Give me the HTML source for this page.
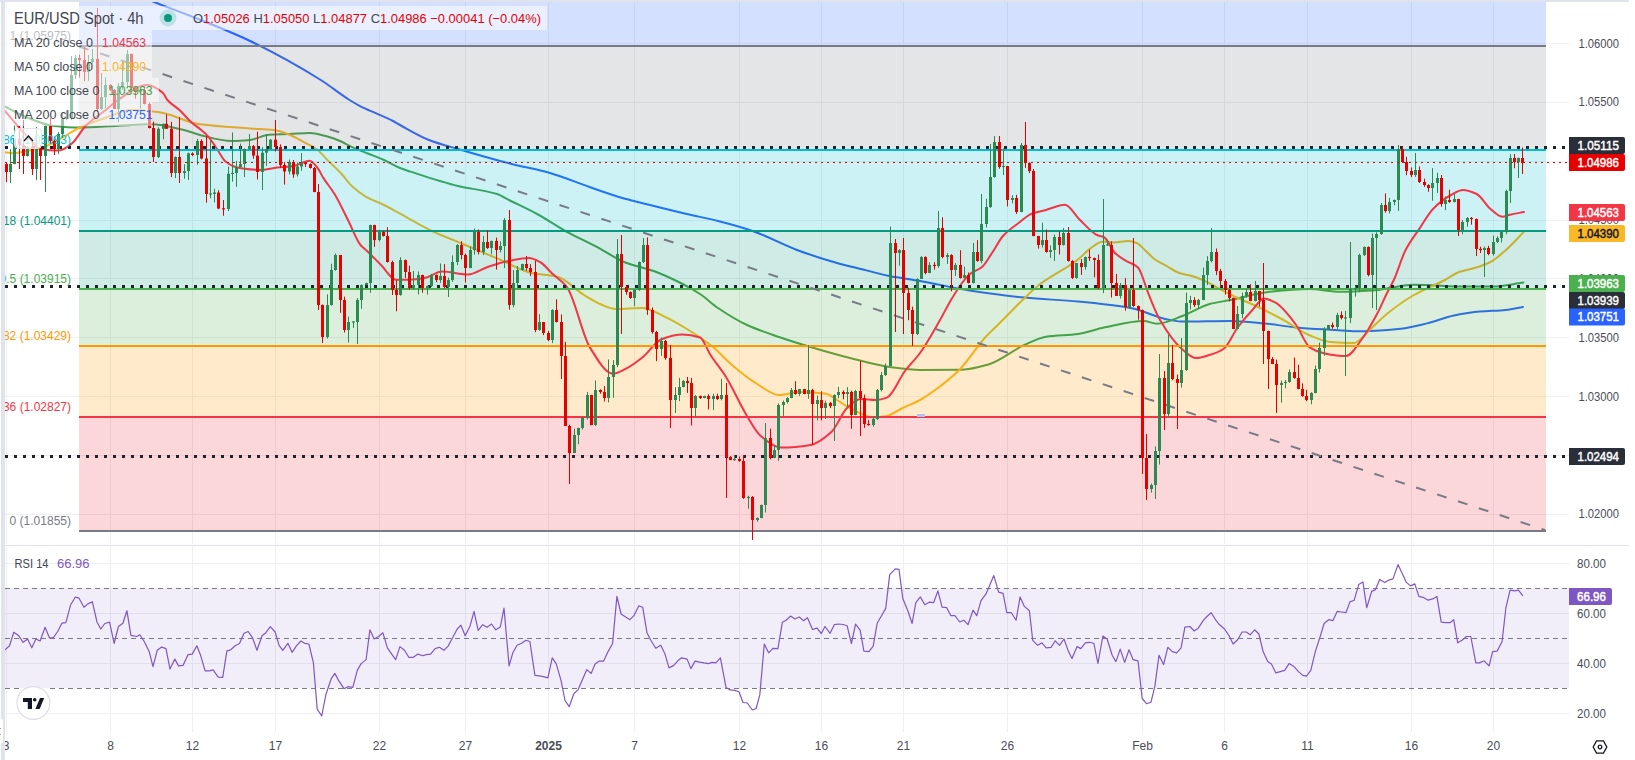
<!DOCTYPE html><html><head><meta charset="utf-8"><style>
html,body{margin:0;padding:0;background:#fff;width:1635px;height:760px;overflow:hidden;}
svg{display:block;font-family:"Liberation Sans", sans-serif;}
</style></head><body>
<svg width="1635" height="760" viewBox="0 0 1635 760">
<defs><clipPath id="cm"><rect x="5" y="2" width="1564" height="542"/></clipPath><clipPath id="cr"><rect x="5" y="546" width="1564" height="189"/></clipPath><clipPath id="cl"><rect x="5" y="2" width="75" height="542"/></clipPath></defs>
<g stroke="#eeeff1" stroke-width="1"><line x1="6.5" y1="2" x2="6.5" y2="544" /><line x1="6.5" y1="546" x2="6.5" y2="732" /><line x1="110.5" y1="2" x2="110.5" y2="544" /><line x1="110.5" y1="546" x2="110.5" y2="732" /><line x1="192.5" y1="2" x2="192.5" y2="544" /><line x1="192.5" y1="546" x2="192.5" y2="732" /><line x1="275.5" y1="2" x2="275.5" y2="544" /><line x1="275.5" y1="546" x2="275.5" y2="732" /><line x1="379.5" y1="2" x2="379.5" y2="544" /><line x1="379.5" y1="546" x2="379.5" y2="732" /><line x1="465.5" y1="2" x2="465.5" y2="544" /><line x1="465.5" y1="546" x2="465.5" y2="732" /><line x1="548.5" y1="2" x2="548.5" y2="544" /><line x1="548.5" y1="546" x2="548.5" y2="732" /><line x1="634.5" y1="2" x2="634.5" y2="544" /><line x1="634.5" y1="546" x2="634.5" y2="732" /><line x1="739.5" y1="2" x2="739.5" y2="544" /><line x1="739.5" y1="546" x2="739.5" y2="732" /><line x1="821.5" y1="2" x2="821.5" y2="544" /><line x1="821.5" y1="546" x2="821.5" y2="732" /><line x1="903.5" y1="2" x2="903.5" y2="544" /><line x1="903.5" y1="546" x2="903.5" y2="732" /><line x1="1007.5" y1="2" x2="1007.5" y2="544" /><line x1="1007.5" y1="546" x2="1007.5" y2="732" /><line x1="1142.5" y1="2" x2="1142.5" y2="544" /><line x1="1142.5" y1="546" x2="1142.5" y2="732" /><line x1="1224.5" y1="2" x2="1224.5" y2="544" /><line x1="1224.5" y1="546" x2="1224.5" y2="732" /><line x1="1307.5" y1="2" x2="1307.5" y2="544" /><line x1="1307.5" y1="546" x2="1307.5" y2="732" /><line x1="1411.5" y1="2" x2="1411.5" y2="544" /><line x1="1411.5" y1="546" x2="1411.5" y2="732" /><line x1="1493.5" y1="2" x2="1493.5" y2="544" /><line x1="1493.5" y1="546" x2="1493.5" y2="732" /><line x1="5" y1="43.5" x2="1569" y2="43.5" /><line x1="5" y1="102.5" x2="1569" y2="102.5" /><line x1="5" y1="161.5" x2="1569" y2="161.5" /><line x1="5" y1="220.5" x2="1569" y2="220.5" /><line x1="5" y1="278.5" x2="1569" y2="278.5" /><line x1="5" y1="337.5" x2="1569" y2="337.5" /><line x1="5" y1="396.5" x2="1569" y2="396.5" /><line x1="5" y1="455.5" x2="1569" y2="455.5" /><line x1="5" y1="514.5" x2="1569" y2="514.5" /><line x1="5" y1="563.5" x2="1569" y2="563.5" /><line x1="5" y1="613.5" x2="1569" y2="613.5" /><line x1="5" y1="663.5" x2="1569" y2="663.5" /><line x1="5" y1="713.5" x2="1569" y2="713.5" /></g>
<g clip-path="url(#cm)" fill="none" stroke-width="2" stroke-linejoin="round" stroke-linecap="round">
<path d="M140.0,-4.0 C145.00,-1.90 150.00,0.27 155.00,2.30 C170.00,8.38 185.00,13.64 200.00,19.70 C216.00,26.16 232.00,32.42 248.00,40.00 C272.00,51.37 296.00,64.54 320.00,79.50 C329.83,85.63 339.67,93.91 349.50,100.00 C353.17,102.27 356.83,104.44 360.50,106.30 C365.77,108.97 371.03,111.03 376.30,113.40 C381.53,115.76 386.77,117.84 392.00,120.50 C394.67,121.85 397.33,123.55 400.00,125.00 C409.67,130.25 419.33,136.25 429.00,140.00 C438.67,143.75 448.33,146.14 458.00,149.00 C475.50,154.18 493.00,159.24 510.50,163.70 C523.67,167.05 536.83,169.27 550.00,173.00 C563.17,176.73 576.33,182.51 589.50,187.00 C601.67,191.15 613.83,195.64 626.00,199.00 C628.67,199.74 631.33,200.34 634.00,201.00 C651.60,205.37 669.20,209.88 686.80,214.00 C697.20,216.43 707.60,218.38 718.00,221.00 C729.53,223.91 741.07,227.05 752.60,231.00 C767.40,236.07 782.20,244.55 797.00,250.00 C810.33,254.91 823.67,259.27 837.00,263.00 C845.67,265.43 854.33,267.35 863.00,269.50 C871.83,271.69 880.67,274.26 889.50,276.00 C899.67,278.01 909.83,279.22 920.00,281.00 C937.53,284.07 955.07,288.34 972.60,291.00 C990.07,293.65 1007.53,295.95 1025.00,297.60 C1042.67,299.27 1060.33,299.95 1078.00,301.60 C1095.50,303.23 1113.00,304.89 1130.50,308.00 C1143.67,310.34 1156.83,317.85 1170.00,320.00 C1174.33,320.71 1178.67,321.60 1183.00,321.60 C1198.67,321.60 1214.33,321.00 1230.00,321.00 C1241.33,321.00 1252.67,322.37 1264.00,323.40 C1274.67,324.37 1285.33,326.46 1296.00,327.40 C1309.00,328.54 1322.00,329.17 1335.00,330.00 C1342.00,330.45 1349.00,331.30 1356.00,331.30 C1371.00,331.30 1386.00,330.12 1401.00,328.70 C1409.67,327.88 1418.33,325.48 1427.00,323.40 C1436.00,321.24 1445.00,317.28 1454.00,315.50 C1462.67,313.78 1471.33,312.36 1480.00,311.60 C1488.67,310.84 1497.33,310.82 1506.00,310.00 C1511.67,309.46 1517.33,308.00 1523.00,307.00" stroke="#2962ff"/>
<path d="M4.0,106.0 C11.33,109.67 18.67,114.08 26.00,117.00 C34.87,120.53 43.73,124.65 52.60,125.70 C61.40,126.74 70.20,127.60 79.00,127.60 C92.00,127.60 105.00,126.29 118.00,125.70 C129.00,125.20 140.00,124.30 151.00,124.30 C162.00,124.30 173.00,127.47 184.00,130.00 C189.33,131.23 194.67,133.71 200.00,135.00 C210.67,137.57 221.33,141.00 232.00,141.00 C238.00,141.00 244.00,140.55 250.00,140.00 C256.33,139.42 262.67,135.09 269.00,134.70 C275.83,134.28 282.67,134.27 289.50,134.00 C296.33,133.73 303.17,133.00 310.00,133.00 C316.33,133.00 322.67,135.27 329.00,137.00 C332.67,138.00 336.33,139.45 340.00,141.00 C344.20,142.77 348.40,145.52 352.60,147.40 C357.87,149.76 363.13,151.59 368.40,153.70 C373.60,155.79 378.80,157.68 384.00,160.00 C389.33,162.38 394.67,165.86 400.00,168.00 C403.50,169.41 407.00,170.46 410.50,171.60 C426.33,176.76 442.17,182.15 458.00,186.00 C471.00,189.16 484.00,189.92 497.00,194.00 C501.00,195.26 505.00,198.00 509.00,200.00 C518.67,204.83 528.33,209.22 538.00,214.50 C547.60,219.74 557.20,226.56 566.80,231.80 C576.47,237.08 586.13,241.24 595.80,246.30 C605.43,251.35 615.07,258.43 624.70,262.20 C634.37,265.98 644.03,267.50 653.70,271.00 C663.33,274.49 672.97,279.09 682.60,284.00 C688.40,286.96 694.20,290.17 700.00,294.00 C706.00,297.96 712.00,303.94 718.00,308.00 C727.67,314.53 737.33,320.56 747.00,325.00 C757.67,329.90 768.33,333.33 779.00,337.00 C789.50,340.61 800.00,343.88 810.50,347.00 C823.67,350.92 836.83,354.70 850.00,358.00 C863.17,361.30 876.33,365.22 889.50,367.00 C899.67,368.37 909.83,370.00 920.00,370.00 C934.00,370.00 948.00,369.91 962.00,369.70 C970.80,369.57 979.60,366.98 988.40,364.50 C1000.60,361.06 1012.80,350.03 1025.00,344.70 C1032.00,341.64 1039.00,337.84 1046.00,336.80 C1056.67,335.22 1067.33,335.40 1078.00,334.00 C1086.67,332.86 1095.33,329.34 1104.00,327.60 C1117.23,324.94 1130.47,321.00 1143.70,321.00 C1148.13,321.00 1152.57,323.70 1157.00,323.70 C1165.67,323.70 1174.33,318.93 1183.00,315.80 C1191.83,312.61 1200.67,306.32 1209.50,304.00 C1216.50,302.16 1223.50,301.39 1230.50,300.00 C1243.50,297.41 1256.50,293.18 1269.50,291.80 C1282.67,290.40 1295.83,289.00 1309.00,289.00 C1319.50,289.00 1330.00,291.80 1340.50,291.80 C1351.00,291.80 1361.50,291.15 1372.00,290.50 C1386.00,289.63 1400.00,284.70 1414.00,284.70 C1431.67,284.70 1449.33,286.60 1467.00,286.60 C1475.67,286.60 1484.33,286.60 1493.00,286.60 C1503.13,286.60 1513.27,283.93 1523.40,282.60" stroke="#43a047"/>
<path d="M4.0,152.0 C7.00,152.43 10.00,153.30 13.00,153.30 C17.33,153.30 21.67,151.75 26.00,151.00 C30.50,150.22 35.00,149.80 39.50,148.70 C46.00,147.12 52.50,142.87 59.00,139.50 C65.67,136.05 72.33,131.10 79.00,128.00 C87.67,123.97 96.33,120.96 105.00,118.00 C113.67,115.04 122.33,110.00 131.00,110.00 C140.00,110.00 149.00,110.98 158.00,112.00 C172.00,113.59 186.00,122.48 200.00,124.30 C216.67,126.47 233.33,127.19 250.00,128.40 C258.00,128.98 266.00,129.08 274.00,130.00 C279.17,130.59 284.33,132.74 289.50,134.70 C294.67,136.66 299.83,139.82 305.00,142.60 C308.77,144.63 312.53,146.30 316.30,149.00 C320.53,152.04 324.77,157.42 329.00,161.60 C333.20,165.75 337.40,169.51 341.60,174.00 C345.27,177.92 348.93,183.44 352.60,186.80 C356.83,190.68 361.07,193.83 365.30,196.30 C371.53,199.93 377.77,201.87 384.00,205.00 C389.33,207.68 394.67,210.81 400.00,213.70 C410.53,219.42 421.07,225.82 431.60,230.80 C442.07,235.75 452.53,239.58 463.00,244.00 C475.33,249.21 487.67,254.49 500.00,259.70 C510.53,264.15 521.07,270.69 531.60,273.00 C540.40,274.93 549.20,274.81 558.00,277.00 C566.67,279.16 575.33,289.66 584.00,295.00 C589.33,298.28 594.67,301.86 600.00,304.00 C605.33,306.14 610.67,309.00 616.00,309.00 C624.67,309.00 633.33,308.00 642.00,308.00 C649.00,308.00 656.00,312.71 663.00,315.80 C671.00,319.33 679.00,324.10 687.00,329.00 C695.67,334.30 704.33,339.99 713.00,347.00 C719.20,352.01 725.40,359.46 731.60,364.70 C740.40,372.13 749.20,379.26 758.00,384.50 C765.00,388.67 772.00,395.00 779.00,395.00 C786.00,395.00 793.00,392.00 800.00,392.00 C808.67,392.00 817.33,392.56 826.00,393.70 C829.67,394.18 833.33,397.84 837.00,400.00 C842.20,403.06 847.40,407.06 852.60,409.50 C859.63,412.80 866.67,417.40 873.70,417.40 C878.07,417.40 882.43,416.76 886.80,416.00 C892.07,415.09 897.33,410.54 902.60,408.00 C908.40,405.20 914.20,403.16 920.00,400.00 C925.27,397.13 930.53,393.37 935.80,389.50 C943.70,383.70 951.60,377.59 959.50,369.70 C968.27,360.95 977.03,346.38 985.80,336.80 C990.20,331.99 994.60,328.09 999.00,323.70 C1006.87,315.85 1014.73,307.54 1022.60,300.00 C1027.73,295.08 1032.87,289.84 1038.00,285.80 C1051.33,275.30 1064.67,269.89 1078.00,259.50 C1082.17,256.25 1086.33,251.15 1090.50,248.30 C1094.47,245.59 1098.43,241.70 1102.40,241.70 C1105.93,241.70 1109.47,242.40 1113.00,242.40 C1118.23,242.40 1123.47,241.00 1128.70,241.00 C1131.33,241.00 1133.97,241.98 1136.60,243.00 C1139.67,244.19 1142.73,248.25 1145.80,251.00 C1148.87,253.75 1151.93,257.35 1155.00,259.50 C1158.50,261.96 1162.00,263.46 1165.50,265.40 C1170.33,268.08 1175.17,271.82 1180.00,273.30 C1183.00,274.22 1186.00,274.52 1189.00,275.30 C1193.00,276.35 1197.00,277.62 1201.00,279.20 C1204.53,280.60 1208.07,282.65 1211.60,284.50 C1215.97,286.78 1220.33,289.47 1224.70,291.70 C1229.80,294.31 1234.90,296.67 1240.00,299.00 C1245.33,301.44 1250.67,303.51 1256.00,306.00 C1264.87,310.14 1273.73,314.67 1282.60,319.50 C1291.40,324.29 1300.20,331.30 1309.00,335.00 C1316.00,337.95 1323.00,341.47 1330.00,342.00 C1337.90,342.60 1345.80,343.00 1353.70,343.00 C1358.97,343.00 1364.23,334.57 1369.50,330.00 C1375.67,324.65 1381.83,317.91 1388.00,313.00 C1396.67,306.10 1405.33,299.96 1414.00,295.00 C1424.33,289.08 1434.67,285.47 1445.00,280.00 C1449.67,277.53 1454.33,273.66 1459.00,272.00 C1464.23,270.14 1469.47,269.60 1474.70,268.00 C1479.97,266.39 1485.23,264.69 1490.50,262.00 C1495.67,259.36 1500.83,254.54 1506.00,250.00 C1512.00,244.73 1518.00,237.73 1524.00,231.60" stroke="#f7b71a"/>
</g>
<rect x="79" y="2" width="1467" height="44.0" fill="#2962ff" fill-opacity="0.2"/><rect x="79" y="46.0" width="1467" height="104.0" fill="#787b86" fill-opacity="0.2"/><rect x="79" y="150.0" width="1467" height="81.0" fill="#00bcd4" fill-opacity="0.2"/><rect x="79" y="231.0" width="1467" height="58.0" fill="#089981" fill-opacity="0.2"/><rect x="79" y="289.0" width="1467" height="57.0" fill="#4caf50" fill-opacity="0.2"/><rect x="79" y="346.0" width="1467" height="71.0" fill="#ff9800" fill-opacity="0.2"/><rect x="79" y="417.0" width="1467" height="114.0" fill="#f23645" fill-opacity="0.2"/>
<path clip-path="url(#cm)" d="M4.0,110.0 C12.67,119.83 21.33,130.83 30.00,139.50 C33.33,142.84 36.67,148.04 40.00,148.70 C46.33,149.95 52.67,150.60 59.00,150.60 C63.33,150.60 67.67,146.75 72.00,143.40 C76.50,139.92 81.00,130.49 85.50,126.00 C92.00,119.52 98.50,115.71 105.00,110.50 C109.33,107.03 113.67,102.81 118.00,100.00 C127.67,93.73 137.33,85.00 147.00,85.00 C152.33,85.00 157.67,88.50 163.00,93.00 C164.47,94.24 165.93,98.31 167.40,100.00 C171.60,104.84 175.80,106.59 180.00,110.50 C183.67,113.91 187.33,118.75 191.00,122.00 C194.00,124.66 197.00,126.47 200.00,129.00 C202.83,131.39 205.67,133.63 208.50,136.80 C211.33,139.97 214.17,144.89 217.00,149.00 C219.87,153.16 222.73,159.21 225.60,161.60 C228.40,163.93 231.20,165.57 234.00,166.50 C236.90,167.46 239.80,168.12 242.70,168.50 C248.47,169.26 254.23,170.00 260.00,170.00 C265.67,170.00 271.33,168.24 277.00,167.60 C282.67,166.96 288.33,166.84 294.00,166.00 C299.17,165.23 304.33,160.80 309.50,160.80 C312.33,160.80 315.17,165.00 318.00,168.50 C319.67,170.56 321.33,174.71 323.00,177.40 C327.00,183.87 331.00,188.09 335.00,194.70 C339.33,201.86 343.67,211.45 348.00,220.00 C352.17,228.22 356.33,239.95 360.50,245.00 C362.60,247.54 364.70,248.80 366.80,250.80 C371.63,255.41 376.47,260.47 381.30,265.30 C386.10,270.10 390.90,279.70 395.70,279.70 C400.47,279.70 405.23,279.70 410.00,279.70 C414.90,279.70 419.80,278.85 424.70,278.00 C430.47,277.00 436.23,271.60 442.00,271.60 C450.67,271.60 459.33,274.60 468.00,274.60 C474.77,274.60 481.53,268.91 488.30,266.70 C495.07,264.49 501.83,262.31 508.60,261.00 C515.40,259.69 522.20,258.00 529.00,258.00 C532.67,258.00 536.33,260.09 540.00,262.00 C544.13,264.16 548.27,269.97 552.40,273.80 C557.20,278.25 562.00,280.59 566.80,286.80 C574.53,296.80 582.27,335.36 590.00,347.60 C597.67,359.74 605.33,373.70 613.00,373.70 C617.33,373.70 621.67,370.81 626.00,368.70 C631.33,366.10 636.67,361.99 642.00,357.80 C648.67,352.56 655.33,341.33 662.00,339.00 C668.87,336.60 675.73,334.60 682.60,334.60 C688.40,334.60 694.20,335.62 700.00,337.50 C703.50,338.64 707.00,349.61 710.50,355.00 C715.67,362.96 720.83,368.74 726.00,377.00 C733.00,388.19 740.00,404.62 747.00,416.00 C751.50,423.31 756.00,432.03 760.50,435.80 C767.53,441.69 774.57,447.60 781.60,447.60 C791.23,447.60 800.87,446.58 810.50,445.00 C817.53,443.85 824.57,438.21 831.60,431.80 C836.73,427.12 841.87,412.74 847.00,408.00 C851.50,403.84 856.00,399.00 860.50,399.00 C865.67,399.00 870.83,400.00 876.00,400.00 C879.67,400.00 883.33,398.92 887.00,397.60 C893.00,395.45 899.00,378.92 905.00,371.00 C910.00,364.40 915.00,359.90 920.00,353.00 C926.67,343.81 933.33,331.59 940.00,320.00 C943.67,313.63 947.33,306.13 951.00,300.00 C954.67,293.87 958.33,287.74 962.00,283.00 C964.67,279.56 967.33,276.09 970.00,274.00 C974.00,270.86 978.00,270.34 982.00,267.00 C985.33,264.22 988.67,257.89 992.00,253.00 C995.67,247.62 999.33,240.03 1003.00,236.00 C1008.67,229.78 1014.33,226.33 1020.00,222.00 C1023.90,219.02 1027.80,215.08 1031.70,213.60 C1036.47,211.79 1041.23,211.25 1046.00,210.00 C1052.27,208.35 1058.53,204.80 1064.80,204.80 C1069.87,204.80 1074.93,215.24 1080.00,220.00 C1085.67,225.32 1091.33,232.64 1097.00,235.00 C1099.23,235.93 1101.47,235.96 1103.70,237.00 C1107.63,238.83 1111.57,249.87 1115.50,253.50 C1119.00,256.73 1122.50,258.64 1126.00,260.80 C1130.00,263.26 1134.00,263.73 1138.00,267.40 C1141.47,270.58 1144.93,285.40 1148.40,293.70 C1152.27,302.95 1156.13,313.40 1160.00,320.00 C1167.67,333.08 1175.33,343.80 1183.00,350.00 C1187.33,353.51 1191.67,358.00 1196.00,358.00 C1200.50,358.00 1205.00,356.32 1209.50,355.00 C1214.13,353.64 1218.77,352.10 1223.40,349.00 C1228.27,345.75 1233.13,333.44 1238.00,327.00 C1242.80,320.65 1247.60,315.18 1252.40,310.00 C1256.27,305.83 1260.13,298.40 1264.00,298.40 C1267.83,298.40 1271.67,300.66 1275.50,302.70 C1282.27,306.29 1289.03,315.64 1295.80,324.50 C1300.53,330.70 1305.27,344.58 1310.00,347.60 C1314.90,350.72 1319.80,352.46 1324.70,353.40 C1331.80,354.77 1338.90,356.00 1346.00,356.00 C1351.33,356.00 1356.67,345.94 1362.00,339.00 C1367.00,332.50 1372.00,323.33 1377.00,314.00 C1380.67,307.16 1384.33,298.26 1388.00,291.00 C1389.93,287.17 1391.87,284.13 1393.80,280.00 C1397.73,271.59 1401.67,257.59 1405.60,250.00 C1410.23,241.05 1414.87,235.52 1419.50,228.60 C1424.00,221.88 1428.50,213.62 1433.00,209.00 C1439.00,202.83 1445.00,198.19 1451.00,195.00 C1455.00,192.87 1459.00,190.00 1463.00,190.00 C1467.57,190.00 1472.13,191.90 1476.70,194.00 C1481.30,196.12 1485.90,205.24 1490.50,209.00 C1494.43,212.21 1498.37,216.80 1502.30,216.80 C1504.87,216.80 1507.43,215.39 1510.00,214.80 C1514.67,213.73 1519.33,212.93 1524.00,212.00" stroke="#f23645" fill="none" stroke-width="2" stroke-linejoin="round" stroke-linecap="round"/>
<rect x="79" y="45.0" width="1467" height="2" fill="#787b86"/>
<rect x="79" y="149.0" width="1467" height="2" fill="#00bcd4"/>
<rect x="79" y="230.0" width="1467" height="2" fill="#089981"/>
<rect x="79" y="288.0" width="1467" height="2" fill="#4caf50"/>
<rect x="79" y="345.0" width="1467" height="2" fill="#ff9800"/>
<rect x="79" y="416.0" width="1467" height="2" fill="#f23645"/>
<rect x="79" y="530.0" width="1467" height="2" fill="#787b86"/>
<line x1="5" y1="147.5" x2="1569" y2="147.5" stroke="#1e222d" stroke-width="3" stroke-dasharray="3 6"/>
<line x1="5" y1="286.5" x2="1569" y2="286.5" stroke="#1e222d" stroke-width="3" stroke-dasharray="3 6"/>
<line x1="5" y1="456.5" x2="1569" y2="456.5" stroke="#1e222d" stroke-width="3" stroke-dasharray="3 6"/>
<line x1="79" y1="46.5" x2="1545" y2="530" stroke="#787b86" stroke-width="2" stroke-dasharray="10 12"/>
<rect x="917" y="414" width="8" height="3" fill="#a9c4f5"/>
<g clip-path="url(#cm)"><g fill="#2b8a52"><rect x="10" y="149.2" width="1" height="33.8"/><rect x="9" y="164.0" width="3" height="8.0"/><rect x="14" y="125.0" width="1" height="39.3"/><rect x="13" y="139.0" width="3" height="25.0"/><rect x="27" y="145.8" width="1" height="10.7"/><rect x="26" y="147.0" width="3" height="9.0"/><rect x="36" y="127.0" width="1" height="53.2"/><rect x="35" y="149.0" width="3" height="20.0"/><rect x="45" y="123.9" width="1" height="68.1"/><rect x="44" y="126.0" width="3" height="30.0"/><rect x="58" y="132.1" width="1" height="21.8"/><rect x="57" y="134.0" width="3" height="15.0"/><rect x="62" y="113.0" width="1" height="24.9"/><rect x="61" y="119.0" width="3" height="15.0"/><rect x="66" y="110.6" width="1" height="9.8"/><rect x="65" y="117.9" width="3" height="1.2"/><rect x="71" y="56.0" width="1" height="64.1"/><rect x="70" y="75.0" width="3" height="43.0"/><rect x="75" y="55.0" width="1" height="23.8"/><rect x="74" y="58.0" width="3" height="17.0"/><rect x="88" y="55.0" width="1" height="26.0"/><rect x="87" y="62.0" width="3" height="10.0"/><rect x="92" y="49.0" width="1" height="14.7"/><rect x="91" y="59.0" width="3" height="3.0"/><rect x="101" y="73.0" width="1" height="37.0"/><rect x="100" y="97.0" width="3" height="12.0"/><rect x="105" y="77.5" width="1" height="30.6"/><rect x="104" y="85.0" width="3" height="12.0"/><rect x="118" y="83.1" width="1" height="38.9"/><rect x="117" y="86.0" width="3" height="23.0"/><rect x="122" y="61.8" width="1" height="28.1"/><rect x="121" y="82.0" width="3" height="4.0"/><rect x="127" y="50.0" width="1" height="37.6"/><rect x="126" y="54.0" width="3" height="28.0"/><rect x="140" y="89.4" width="1" height="19.4"/><rect x="139" y="90.0" width="3" height="2.0"/><rect x="158" y="127.3" width="1" height="30.7"/><rect x="157" y="128.8" width="3" height="28.2"/><rect x="163" y="123.7" width="1" height="15.6"/><rect x="162" y="123.8" width="3" height="5.0"/><rect x="175" y="156.4" width="1" height="21.8"/><rect x="174" y="157.0" width="3" height="16.0"/><rect x="184" y="164.3" width="1" height="14.4"/><rect x="183" y="171.0" width="3" height="2.0"/><rect x="188" y="152.5" width="1" height="27.4"/><rect x="187" y="153.4" width="3" height="17.6"/><rect x="197" y="138.9" width="1" height="25.8"/><rect x="196" y="141.0" width="3" height="14.0"/><rect x="210" y="139.7" width="1" height="58.6"/><rect x="209" y="193.4" width="3" height="1.2"/><rect x="214" y="188.7" width="1" height="13.7"/><rect x="213" y="192.5" width="3" height="1.5"/><rect x="228" y="166.5" width="1" height="44.5"/><rect x="227" y="173.7" width="3" height="35.3"/><rect x="232" y="132.4" width="1" height="49.3"/><rect x="231" y="172.8" width="3" height="1.2"/><rect x="236" y="160.9" width="1" height="25.9"/><rect x="235" y="167.0" width="3" height="6.0"/><rect x="240" y="143.6" width="1" height="23.9"/><rect x="239" y="164.0" width="3" height="3.0"/><rect x="244" y="148.4" width="1" height="28.6"/><rect x="243" y="149.0" width="3" height="15.0"/><rect x="249" y="134.0" width="1" height="15.8"/><rect x="248" y="146.0" width="3" height="3.0"/><rect x="262" y="147.0" width="1" height="43.0"/><rect x="261" y="152.7" width="3" height="19.3"/><rect x="266" y="134.0" width="1" height="31.7"/><rect x="265" y="149.0" width="3" height="3.7"/><rect x="270" y="139.0" width="1" height="10.0"/><rect x="269" y="139.7" width="3" height="9.3"/><rect x="289" y="159.5" width="1" height="14.9"/><rect x="288" y="162.0" width="3" height="9.5"/><rect x="297" y="162.4" width="1" height="14.1"/><rect x="296" y="166.5" width="3" height="7.9"/><rect x="301" y="153.1" width="1" height="17.6"/><rect x="300" y="163.0" width="3" height="3.5"/><rect x="327" y="294.3" width="1" height="44.4"/><rect x="326" y="305.0" width="3" height="32.0"/><rect x="331" y="263.7" width="1" height="41.9"/><rect x="330" y="270.0" width="3" height="35.0"/><rect x="335" y="253.6" width="1" height="17.2"/><rect x="334" y="255.0" width="3" height="15.0"/><rect x="348" y="316.6" width="1" height="25.9"/><rect x="347" y="322.0" width="3" height="8.0"/><rect x="353" y="321.3" width="1" height="6.6"/><rect x="352" y="321.4" width="3" height="1.2"/><rect x="357" y="298.1" width="1" height="45.9"/><rect x="356" y="300.0" width="3" height="22.0"/><rect x="361" y="284.4" width="1" height="24.4"/><rect x="360" y="285.0" width="3" height="15.0"/><rect x="366" y="282.7" width="1" height="2.5"/><rect x="365" y="283.0" width="3" height="2.0"/><rect x="370" y="224.7" width="1" height="68.0"/><rect x="369" y="225.0" width="3" height="58.0"/><rect x="379" y="229.9" width="1" height="11.6"/><rect x="378" y="232.0" width="3" height="8.0"/><rect x="400" y="257.2" width="1" height="38.5"/><rect x="399" y="260.0" width="3" height="35.0"/><rect x="413" y="270.9" width="1" height="18.6"/><rect x="412" y="285.0" width="3" height="3.0"/><rect x="418" y="271.5" width="1" height="22.9"/><rect x="417" y="275.0" width="3" height="10.0"/><rect x="427" y="285.7" width="1" height="8.8"/><rect x="426" y="286.0" width="3" height="2.0"/><rect x="431" y="273.8" width="1" height="13.1"/><rect x="430" y="275.0" width="3" height="11.0"/><rect x="440" y="263.4" width="1" height="19.4"/><rect x="439" y="276.0" width="3" height="4.0"/><rect x="448" y="277.6" width="1" height="19.4"/><rect x="447" y="280.0" width="3" height="7.0"/><rect x="452" y="255.4" width="1" height="26.4"/><rect x="451" y="262.0" width="3" height="18.0"/><rect x="457" y="244.1" width="1" height="21.0"/><rect x="456" y="245.0" width="3" height="17.0"/><rect x="470" y="246.4" width="1" height="21.8"/><rect x="469" y="250.0" width="3" height="18.0"/><rect x="474" y="228.5" width="1" height="26.1"/><rect x="473" y="232.0" width="3" height="18.0"/><rect x="483" y="235.9" width="1" height="19.2"/><rect x="482" y="242.0" width="3" height="10.0"/><rect x="491" y="240.6" width="1" height="13.7"/><rect x="490" y="241.0" width="3" height="7.0"/><rect x="500" y="241.2" width="1" height="11.3"/><rect x="499" y="246.0" width="3" height="4.0"/><rect x="504" y="218.0" width="1" height="50.0"/><rect x="503" y="220.0" width="3" height="26.0"/><rect x="513" y="270.0" width="1" height="37.4"/><rect x="512" y="283.0" width="3" height="22.0"/><rect x="517" y="266.0" width="1" height="22.1"/><rect x="516" y="270.0" width="3" height="13.0"/><rect x="522" y="263.7" width="1" height="6.8"/><rect x="521" y="264.0" width="3" height="6.0"/><rect x="539" y="314.2" width="1" height="16.6"/><rect x="538" y="322.0" width="3" height="8.0"/><rect x="552" y="309.2" width="1" height="33.9"/><rect x="551" y="310.0" width="3" height="30.0"/><rect x="574" y="428.6" width="1" height="24.4"/><rect x="573" y="435.0" width="3" height="18.0"/><rect x="578" y="427.6" width="1" height="16.6"/><rect x="577" y="428.0" width="3" height="7.0"/><rect x="582" y="416.8" width="1" height="12.8"/><rect x="581" y="418.0" width="3" height="10.0"/><rect x="587" y="391.9" width="1" height="27.7"/><rect x="586" y="395.0" width="3" height="23.0"/><rect x="595" y="380.4" width="1" height="45.6"/><rect x="594" y="390.0" width="3" height="35.0"/><rect x="608" y="359.4" width="1" height="43.0"/><rect x="607" y="377.0" width="3" height="21.0"/><rect x="613" y="360.1" width="1" height="37.6"/><rect x="612" y="365.0" width="3" height="12.0"/><rect x="617" y="239.0" width="1" height="128.2"/><rect x="616" y="254.0" width="3" height="111.0"/><rect x="634" y="289.1" width="1" height="17.2"/><rect x="633" y="290.0" width="3" height="8.0"/><rect x="639" y="261.5" width="1" height="29.3"/><rect x="638" y="262.0" width="3" height="28.0"/><rect x="643" y="238.0" width="1" height="25.0"/><rect x="642" y="245.0" width="3" height="17.0"/><rect x="661" y="337.5" width="1" height="18.4"/><rect x="660" y="341.0" width="3" height="8.0"/><rect x="675" y="387.1" width="1" height="25.9"/><rect x="674" y="395.0" width="3" height="5.0"/><rect x="679" y="377.8" width="1" height="23.3"/><rect x="678" y="387.0" width="3" height="8.0"/><rect x="683" y="380.0" width="1" height="7.4"/><rect x="682" y="381.0" width="3" height="6.0"/><rect x="695" y="395.1" width="1" height="21.8"/><rect x="694" y="396.0" width="3" height="12.0"/><rect x="704" y="395.6" width="1" height="2.7"/><rect x="703" y="396.0" width="3" height="2.0"/><rect x="713" y="393.8" width="1" height="16.3"/><rect x="712" y="396.0" width="3" height="3.0"/><rect x="721" y="378.8" width="1" height="21.5"/><rect x="720" y="395.0" width="3" height="4.0"/><rect x="734" y="454.9" width="1" height="6.0"/><rect x="733" y="458.9" width="3" height="1.2"/><rect x="748" y="495.7" width="1" height="13.0"/><rect x="747" y="496.9" width="3" height="1.2"/><rect x="757" y="517.4" width="1" height="4.3"/><rect x="756" y="518.0" width="3" height="2.0"/><rect x="761" y="504.5" width="1" height="13.7"/><rect x="760" y="505.0" width="3" height="13.0"/><rect x="765" y="423.0" width="1" height="89.5"/><rect x="764" y="438.0" width="3" height="67.0"/><rect x="774" y="445.2" width="1" height="12.9"/><rect x="773" y="450.0" width="3" height="8.0"/><rect x="778" y="403.4" width="1" height="57.4"/><rect x="777" y="405.0" width="3" height="45.0"/><rect x="783" y="400.5" width="1" height="15.4"/><rect x="782" y="402.0" width="3" height="3.0"/><rect x="787" y="397.2" width="1" height="6.4"/><rect x="786" y="398.0" width="3" height="4.0"/><rect x="791" y="388.0" width="1" height="10.2"/><rect x="790" y="390.0" width="3" height="8.0"/><rect x="799" y="388.9" width="1" height="7.0"/><rect x="798" y="389.0" width="3" height="5.0"/><rect x="808" y="345.0" width="1" height="53.8"/><rect x="807" y="390.0" width="3" height="4.0"/><rect x="817" y="395.6" width="1" height="24.8"/><rect x="816" y="400.0" width="3" height="4.0"/><rect x="825" y="400.7" width="1" height="18.3"/><rect x="824" y="403.0" width="3" height="5.0"/><rect x="834" y="394.3" width="1" height="46.7"/><rect x="833" y="395.0" width="3" height="11.0"/><rect x="838" y="386.8" width="1" height="11.5"/><rect x="837" y="392.0" width="3" height="3.0"/><rect x="847" y="387.1" width="1" height="20.5"/><rect x="846" y="392.0" width="3" height="2.0"/><rect x="855" y="389.9" width="1" height="25.4"/><rect x="854" y="391.0" width="3" height="24.0"/><rect x="873" y="416.1" width="1" height="10.6"/><rect x="872" y="419.0" width="3" height="6.0"/><rect x="877" y="389.0" width="1" height="31.0"/><rect x="876" y="390.0" width="3" height="29.0"/><rect x="881" y="372.0" width="1" height="19.4"/><rect x="880" y="375.0" width="3" height="15.0"/><rect x="885" y="363.5" width="1" height="12.4"/><rect x="884" y="366.0" width="3" height="9.0"/><rect x="890" y="226.5" width="1" height="139.8"/><rect x="889" y="243.0" width="3" height="123.0"/><rect x="899" y="249.3" width="1" height="16.4"/><rect x="898" y="250.0" width="3" height="3.0"/><rect x="917" y="278.2" width="1" height="56.8"/><rect x="916" y="279.0" width="3" height="55.0"/><rect x="921" y="256.2" width="1" height="22.8"/><rect x="920" y="257.0" width="3" height="22.0"/><rect x="929" y="262.2" width="1" height="11.0"/><rect x="928" y="265.0" width="3" height="8.0"/><rect x="938" y="211.0" width="1" height="56.8"/><rect x="937" y="228.0" width="3" height="38.0"/><rect x="947" y="253.1" width="1" height="10.9"/><rect x="946" y="255.0" width="3" height="2.0"/><rect x="955" y="263.1" width="1" height="12.9"/><rect x="954" y="265.0" width="3" height="5.0"/><rect x="964" y="266.6" width="1" height="11.7"/><rect x="963" y="275.0" width="3" height="3.0"/><rect x="973" y="242.9" width="1" height="40.5"/><rect x="972" y="252.0" width="3" height="31.0"/><rect x="981" y="194.0" width="1" height="69.3"/><rect x="980" y="224.0" width="3" height="37.0"/><rect x="986" y="198.8" width="1" height="28.6"/><rect x="985" y="207.0" width="3" height="17.0"/><rect x="990" y="144.0" width="1" height="63.9"/><rect x="989" y="177.0" width="3" height="30.0"/><rect x="994" y="136.0" width="1" height="41.7"/><rect x="993" y="142.0" width="3" height="35.0"/><rect x="1003" y="148.6" width="1" height="26.4"/><rect x="1002" y="165.9" width="3" height="1.2"/><rect x="1012" y="195.2" width="1" height="8.2"/><rect x="1011" y="198.0" width="3" height="2.0"/><rect x="1021" y="143.0" width="1" height="69.1"/><rect x="1020" y="145.0" width="3" height="67.0"/><rect x="1042" y="222.7" width="1" height="24.8"/><rect x="1041" y="240.0" width="3" height="5.0"/><rect x="1050" y="245.4" width="1" height="12.5"/><rect x="1049" y="250.0" width="3" height="2.0"/><rect x="1054" y="234.6" width="1" height="26.4"/><rect x="1053" y="237.0" width="3" height="13.0"/><rect x="1063" y="228.1" width="1" height="17.5"/><rect x="1062" y="233.0" width="3" height="12.0"/><rect x="1076" y="262.9" width="1" height="15.8"/><rect x="1075" y="263.0" width="3" height="15.0"/><rect x="1085" y="256.6" width="1" height="13.1"/><rect x="1084" y="257.0" width="3" height="10.0"/><rect x="1103" y="199.0" width="1" height="94.1"/><rect x="1102" y="245.0" width="3" height="43.0"/><rect x="1107" y="239.6" width="1" height="6.1"/><rect x="1106" y="244.4" width="3" height="1.2"/><rect x="1120" y="283.0" width="1" height="15.5"/><rect x="1119" y="285.0" width="3" height="11.0"/><rect x="1129" y="289.6" width="1" height="18.9"/><rect x="1128" y="290.0" width="3" height="17.0"/><rect x="1151" y="483.5" width="1" height="9.1"/><rect x="1150" y="485.0" width="3" height="4.0"/><rect x="1155" y="446.4" width="1" height="52.6"/><rect x="1154" y="451.0" width="3" height="34.0"/><rect x="1159" y="354.0" width="1" height="110.6"/><rect x="1158" y="378.0" width="3" height="73.0"/><rect x="1168" y="335.0" width="1" height="82.6"/><rect x="1167" y="363.0" width="3" height="51.0"/><rect x="1181" y="338.0" width="1" height="49.7"/><rect x="1180" y="370.0" width="3" height="13.0"/><rect x="1186" y="292.6" width="1" height="78.3"/><rect x="1185" y="303.0" width="3" height="67.0"/><rect x="1190" y="295.8" width="1" height="13.7"/><rect x="1189" y="300.0" width="3" height="3.0"/><rect x="1198" y="298.9" width="1" height="9.7"/><rect x="1197" y="300.0" width="3" height="5.0"/><rect x="1203" y="267.6" width="1" height="32.5"/><rect x="1202" y="275.0" width="3" height="25.0"/><rect x="1207" y="256.2" width="1" height="28.9"/><rect x="1206" y="261.0" width="3" height="14.0"/><rect x="1211" y="228.0" width="1" height="34.4"/><rect x="1210" y="252.0" width="3" height="9.0"/><rect x="1237" y="306.0" width="1" height="23.5"/><rect x="1236" y="314.0" width="3" height="15.0"/><rect x="1242" y="292.5" width="1" height="25.7"/><rect x="1241" y="296.0" width="3" height="18.0"/><rect x="1246" y="288.9" width="1" height="8.7"/><rect x="1245" y="292.0" width="3" height="4.0"/><rect x="1255" y="280.9" width="1" height="20.5"/><rect x="1254" y="291.0" width="3" height="10.0"/><rect x="1281" y="380.5" width="1" height="22.1"/><rect x="1280" y="383.0" width="3" height="2.0"/><rect x="1285" y="379.9" width="1" height="8.4"/><rect x="1284" y="381.9" width="3" height="1.2"/><rect x="1289" y="369.3" width="1" height="13.6"/><rect x="1288" y="372.0" width="3" height="10.0"/><rect x="1311" y="392.2" width="1" height="12.1"/><rect x="1310" y="393.0" width="3" height="7.0"/><rect x="1315" y="365.5" width="1" height="27.8"/><rect x="1314" y="369.0" width="3" height="24.0"/><rect x="1319" y="342.6" width="1" height="29.9"/><rect x="1318" y="348.0" width="3" height="21.0"/><rect x="1324" y="327.2" width="1" height="28.5"/><rect x="1323" y="329.0" width="3" height="19.0"/><rect x="1328" y="324.9" width="1" height="4.9"/><rect x="1327" y="325.0" width="3" height="4.0"/><rect x="1337" y="312.8" width="1" height="16.8"/><rect x="1336" y="315.0" width="3" height="12.0"/><rect x="1345" y="310.9" width="1" height="65.1"/><rect x="1344" y="317.4" width="3" height="1.2"/><rect x="1350" y="242.0" width="1" height="81.2"/><rect x="1349" y="289.0" width="3" height="29.0"/><rect x="1355" y="285.7" width="1" height="10.9"/><rect x="1354" y="287.9" width="3" height="1.2"/><rect x="1359" y="253.7" width="1" height="38.5"/><rect x="1358" y="255.0" width="3" height="33.0"/><rect x="1364" y="246.4" width="1" height="9.6"/><rect x="1363" y="247.0" width="3" height="8.0"/><rect x="1372" y="233.4" width="1" height="74.6"/><rect x="1371" y="238.0" width="3" height="37.0"/><rect x="1376" y="232.3" width="1" height="77.7"/><rect x="1375" y="234.0" width="3" height="4.0"/><rect x="1381" y="203.0" width="1" height="31.8"/><rect x="1380" y="205.0" width="3" height="29.0"/><rect x="1389" y="197.9" width="1" height="15.6"/><rect x="1388" y="202.0" width="3" height="9.0"/><rect x="1394" y="199.5" width="1" height="5.8"/><rect x="1393" y="200.0" width="3" height="2.0"/><rect x="1398" y="145.0" width="1" height="66.0"/><rect x="1397" y="149.0" width="3" height="51.0"/><rect x="1415" y="153.0" width="1" height="23.9"/><rect x="1414" y="170.0" width="3" height="5.0"/><rect x="1432" y="168.1" width="1" height="32.7"/><rect x="1431" y="183.0" width="3" height="5.0"/><rect x="1437" y="172.7" width="1" height="20.2"/><rect x="1436" y="178.0" width="3" height="5.0"/><rect x="1445" y="196.4" width="1" height="13.7"/><rect x="1444" y="200.0" width="3" height="4.0"/><rect x="1454" y="194.0" width="1" height="8.5"/><rect x="1453" y="199.0" width="3" height="3.0"/><rect x="1462" y="220.1" width="1" height="14.1"/><rect x="1461" y="222.0" width="3" height="8.0"/><rect x="1467" y="217.1" width="1" height="9.6"/><rect x="1466" y="218.0" width="3" height="4.0"/><rect x="1484" y="246.5" width="1" height="30.5"/><rect x="1483" y="248.0" width="3" height="2.0"/><rect x="1493" y="235.7" width="1" height="19.8"/><rect x="1492" y="242.0" width="3" height="12.0"/><rect x="1497" y="236.3" width="1" height="6.7"/><rect x="1496" y="238.0" width="3" height="4.0"/><rect x="1501" y="232.0" width="1" height="10.5"/><rect x="1500" y="232.0" width="3" height="6.0"/><rect x="1506" y="189.7" width="1" height="44.5"/><rect x="1505" y="191.0" width="3" height="41.0"/><rect x="1510" y="154.2" width="1" height="48.8"/><rect x="1509" y="158.0" width="3" height="33.0"/><rect x="1518" y="157.5" width="1" height="20.5"/><rect x="1517" y="158.0" width="3" height="4.0"/></g><g fill="#e60000"><rect x="6" y="162.6" width="1" height="19.4"/><rect x="5" y="164.0" width="3" height="8.0"/><rect x="19" y="126.0" width="1" height="43.0"/><rect x="18" y="139.0" width="3" height="6.0"/><rect x="23" y="120.0" width="1" height="54.1"/><rect x="22" y="145.0" width="3" height="11.0"/><rect x="32" y="141.1" width="1" height="33.9"/><rect x="31" y="147.0" width="3" height="22.0"/><rect x="40" y="145.0" width="1" height="35.0"/><rect x="39" y="149.0" width="3" height="7.0"/><rect x="50" y="118.0" width="1" height="26.0"/><rect x="49" y="126.0" width="3" height="15.0"/><rect x="54" y="136.4" width="1" height="18.6"/><rect x="53" y="141.0" width="3" height="8.0"/><rect x="79" y="54.4" width="1" height="23.1"/><rect x="78" y="58.0" width="3" height="2.0"/><rect x="84" y="46.8" width="1" height="34.2"/><rect x="83" y="60.0" width="3" height="12.0"/><rect x="97" y="8.0" width="1" height="103.8"/><rect x="96" y="59.0" width="3" height="50.0"/><rect x="110" y="84.1" width="1" height="6.9"/><rect x="109" y="85.0" width="3" height="5.0"/><rect x="114" y="88.9" width="1" height="20.1"/><rect x="113" y="90.0" width="3" height="19.0"/><rect x="131" y="53.6" width="1" height="37.9"/><rect x="130" y="54.0" width="3" height="34.0"/><rect x="135" y="87.2" width="1" height="11.4"/><rect x="134" y="88.0" width="3" height="4.0"/><rect x="144" y="86.7" width="1" height="17.9"/><rect x="143" y="90.0" width="3" height="14.0"/><rect x="149" y="102.4" width="1" height="26.0"/><rect x="148" y="104.0" width="3" height="24.0"/><rect x="153" y="121.6" width="1" height="40.4"/><rect x="152" y="128.0" width="3" height="29.0"/><rect x="166" y="114.3" width="1" height="14.6"/><rect x="165" y="123.8" width="3" height="5.0"/><rect x="171" y="121.8" width="1" height="55.3"/><rect x="170" y="128.8" width="3" height="44.2"/><rect x="179" y="117.0" width="1" height="66.0"/><rect x="178" y="157.0" width="3" height="16.0"/><rect x="192" y="152.3" width="1" height="3.8"/><rect x="191" y="153.4" width="3" height="1.6"/><rect x="201" y="139.4" width="1" height="20.0"/><rect x="200" y="141.0" width="3" height="17.5"/><rect x="206" y="136.0" width="1" height="66.7"/><rect x="205" y="158.5" width="3" height="35.5"/><rect x="218" y="190.2" width="1" height="19.0"/><rect x="217" y="192.5" width="3" height="16.0"/><rect x="223" y="200.0" width="1" height="15.7"/><rect x="222" y="208.2" width="3" height="1.2"/><rect x="253" y="145.0" width="1" height="13.7"/><rect x="252" y="146.0" width="3" height="9.6"/><rect x="257" y="131.7" width="1" height="47.8"/><rect x="256" y="155.6" width="3" height="16.4"/><rect x="275" y="120.0" width="1" height="31.5"/><rect x="274" y="139.7" width="3" height="7.3"/><rect x="280" y="144.4" width="1" height="23.4"/><rect x="279" y="147.0" width="3" height="18.0"/><rect x="284" y="162.1" width="1" height="22.5"/><rect x="283" y="165.0" width="3" height="6.5"/><rect x="293" y="160.0" width="1" height="17.8"/><rect x="292" y="162.0" width="3" height="12.4"/><rect x="305" y="161.8" width="1" height="5.1"/><rect x="304" y="162.9" width="3" height="1.2"/><rect x="310" y="163.5" width="1" height="5.0"/><rect x="309" y="164.0" width="3" height="4.0"/><rect x="314" y="167.0" width="1" height="25.2"/><rect x="313" y="168.0" width="3" height="24.0"/><rect x="318" y="184.0" width="1" height="126.0"/><rect x="317" y="192.0" width="3" height="113.0"/><rect x="322" y="304.5" width="1" height="38.5"/><rect x="321" y="305.0" width="3" height="32.0"/><rect x="340" y="254.9" width="1" height="57.9"/><rect x="339" y="255.0" width="3" height="45.0"/><rect x="344" y="296.6" width="1" height="35.9"/><rect x="343" y="300.0" width="3" height="30.0"/><rect x="374" y="224.7" width="1" height="22.1"/><rect x="373" y="225.0" width="3" height="15.0"/><rect x="383" y="230.9" width="1" height="5.6"/><rect x="382" y="232.0" width="3" height="4.0"/><rect x="387" y="227.2" width="1" height="35.4"/><rect x="386" y="236.0" width="3" height="26.0"/><rect x="392" y="260.7" width="1" height="34.3"/><rect x="391" y="262.0" width="3" height="28.0"/><rect x="396" y="280.3" width="1" height="31.0"/><rect x="395" y="290.0" width="3" height="5.0"/><rect x="405" y="259.6" width="1" height="18.4"/><rect x="404" y="260.0" width="3" height="12.0"/><rect x="409" y="265.7" width="1" height="24.0"/><rect x="408" y="272.0" width="3" height="16.0"/><rect x="422" y="274.7" width="1" height="18.0"/><rect x="421" y="275.0" width="3" height="13.0"/><rect x="436" y="274.4" width="1" height="7.7"/><rect x="435" y="275.0" width="3" height="5.0"/><rect x="444" y="264.1" width="1" height="24.4"/><rect x="443" y="276.0" width="3" height="11.0"/><rect x="461" y="241.2" width="1" height="18.2"/><rect x="460" y="245.0" width="3" height="10.0"/><rect x="465" y="253.6" width="1" height="29.0"/><rect x="464" y="255.0" width="3" height="13.0"/><rect x="478" y="229.4" width="1" height="25.1"/><rect x="477" y="232.0" width="3" height="20.0"/><rect x="487" y="230.3" width="1" height="18.6"/><rect x="486" y="242.0" width="3" height="6.0"/><rect x="496" y="237.6" width="1" height="32.0"/><rect x="495" y="241.0" width="3" height="9.0"/><rect x="509" y="210.0" width="1" height="99.6"/><rect x="508" y="220.0" width="3" height="85.0"/><rect x="526" y="256.0" width="1" height="14.9"/><rect x="525" y="264.0" width="3" height="4.0"/><rect x="530" y="264.1" width="1" height="12.0"/><rect x="529" y="268.0" width="3" height="4.0"/><rect x="535" y="261.0" width="1" height="71.2"/><rect x="534" y="272.0" width="3" height="58.0"/><rect x="543" y="321.9" width="1" height="13.2"/><rect x="542" y="322.0" width="3" height="11.0"/><rect x="548" y="330.9" width="1" height="10.2"/><rect x="547" y="333.0" width="3" height="7.0"/><rect x="556" y="299.3" width="1" height="23.2"/><rect x="555" y="310.0" width="3" height="12.0"/><rect x="561" y="314.4" width="1" height="64.6"/><rect x="560" y="322.0" width="3" height="34.0"/><rect x="565" y="341.8" width="1" height="84.3"/><rect x="564" y="356.0" width="3" height="70.0"/><rect x="569" y="424.7" width="1" height="59.3"/><rect x="568" y="426.0" width="3" height="27.0"/><rect x="591" y="394.8" width="1" height="30.5"/><rect x="590" y="395.0" width="3" height="30.0"/><rect x="600" y="389.3" width="1" height="4.4"/><rect x="599" y="390.0" width="3" height="2.0"/><rect x="604" y="386.2" width="1" height="15.3"/><rect x="603" y="392.0" width="3" height="6.0"/><rect x="621" y="235.0" width="1" height="99.0"/><rect x="620" y="254.0" width="3" height="33.0"/><rect x="626" y="285.7" width="1" height="9.1"/><rect x="625" y="287.0" width="3" height="5.0"/><rect x="630" y="291.4" width="1" height="7.4"/><rect x="629" y="292.0" width="3" height="6.0"/><rect x="647" y="237.4" width="1" height="77.5"/><rect x="646" y="245.0" width="3" height="65.0"/><rect x="652" y="307.4" width="1" height="26.3"/><rect x="651" y="310.0" width="3" height="22.0"/><rect x="656" y="330.9" width="1" height="30.2"/><rect x="655" y="332.0" width="3" height="17.0"/><rect x="665" y="340.0" width="1" height="19.8"/><rect x="664" y="341.0" width="3" height="17.0"/><rect x="670" y="345.0" width="1" height="83.0"/><rect x="669" y="358.0" width="3" height="42.0"/><rect x="687" y="377.0" width="1" height="15.9"/><rect x="686" y="381.0" width="3" height="2.0"/><rect x="691" y="377.9" width="1" height="47.6"/><rect x="690" y="383.0" width="3" height="25.0"/><rect x="700" y="395.5" width="1" height="3.5"/><rect x="699" y="396.0" width="3" height="2.0"/><rect x="708" y="394.3" width="1" height="15.2"/><rect x="707" y="396.0" width="3" height="3.0"/><rect x="717" y="393.7" width="1" height="6.2"/><rect x="716" y="396.0" width="3" height="3.0"/><rect x="726" y="383.0" width="1" height="115.0"/><rect x="725" y="395.0" width="3" height="62.0"/><rect x="730" y="456.1" width="1" height="4.0"/><rect x="729" y="457.0" width="3" height="3.0"/><rect x="739" y="456.5" width="1" height="5.3"/><rect x="738" y="459.0" width="3" height="2.0"/><rect x="743" y="455.0" width="1" height="43.9"/><rect x="742" y="461.0" width="3" height="37.0"/><rect x="752" y="496.1" width="1" height="43.9"/><rect x="751" y="497.0" width="3" height="23.0"/><rect x="770" y="428.6" width="1" height="30.8"/><rect x="769" y="438.0" width="3" height="20.0"/><rect x="795" y="381.2" width="1" height="13.6"/><rect x="794" y="390.0" width="3" height="4.0"/><rect x="804" y="388.9" width="1" height="5.3"/><rect x="803" y="389.0" width="3" height="5.0"/><rect x="812" y="388.9" width="1" height="56.1"/><rect x="811" y="390.0" width="3" height="14.0"/><rect x="821" y="391.3" width="1" height="29.0"/><rect x="820" y="400.0" width="3" height="8.0"/><rect x="830" y="402.0" width="1" height="6.0"/><rect x="829" y="403.0" width="3" height="3.0"/><rect x="843" y="390.4" width="1" height="8.9"/><rect x="842" y="392.0" width="3" height="2.0"/><rect x="851" y="390.6" width="1" height="38.1"/><rect x="850" y="392.0" width="3" height="23.0"/><rect x="860" y="361.0" width="1" height="75.0"/><rect x="859" y="391.0" width="3" height="7.0"/><rect x="864" y="394.6" width="1" height="33.3"/><rect x="863" y="398.0" width="3" height="26.0"/><rect x="868" y="420.1" width="1" height="5.5"/><rect x="867" y="423.9" width="3" height="1.2"/><rect x="895" y="239.0" width="1" height="93.0"/><rect x="894" y="243.0" width="3" height="10.0"/><rect x="903" y="238.0" width="1" height="96.0"/><rect x="902" y="250.0" width="3" height="43.0"/><rect x="908" y="287.7" width="1" height="32.5"/><rect x="907" y="293.0" width="3" height="17.0"/><rect x="912" y="306.6" width="1" height="39.4"/><rect x="911" y="310.0" width="3" height="24.0"/><rect x="925" y="256.3" width="1" height="18.0"/><rect x="924" y="257.0" width="3" height="16.0"/><rect x="934" y="262.1" width="1" height="7.6"/><rect x="933" y="264.9" width="3" height="1.2"/><rect x="942" y="217.3" width="1" height="41.0"/><rect x="941" y="228.0" width="3" height="29.0"/><rect x="951" y="254.2" width="1" height="37.1"/><rect x="950" y="255.0" width="3" height="15.0"/><rect x="960" y="250.2" width="1" height="28.4"/><rect x="959" y="265.0" width="3" height="13.0"/><rect x="968" y="272.5" width="1" height="11.0"/><rect x="967" y="275.0" width="3" height="8.0"/><rect x="977" y="240.1" width="1" height="21.7"/><rect x="976" y="252.0" width="3" height="9.0"/><rect x="999" y="136.0" width="1" height="32.7"/><rect x="998" y="142.0" width="3" height="25.0"/><rect x="1007" y="165.9" width="1" height="40.5"/><rect x="1006" y="166.0" width="3" height="34.0"/><rect x="1016" y="194.9" width="1" height="19.0"/><rect x="1015" y="198.0" width="3" height="14.0"/><rect x="1025" y="122.0" width="1" height="46.0"/><rect x="1024" y="145.0" width="3" height="18.0"/><rect x="1029" y="162.3" width="1" height="10.9"/><rect x="1028" y="163.0" width="3" height="8.0"/><rect x="1033" y="169.0" width="1" height="67.3"/><rect x="1032" y="171.0" width="3" height="65.0"/><rect x="1038" y="235.9" width="1" height="12.7"/><rect x="1037" y="236.0" width="3" height="9.0"/><rect x="1046" y="229.5" width="1" height="23.1"/><rect x="1045" y="240.0" width="3" height="12.0"/><rect x="1059" y="231.6" width="1" height="22.8"/><rect x="1058" y="237.0" width="3" height="8.0"/><rect x="1068" y="227.1" width="1" height="34.5"/><rect x="1067" y="233.0" width="3" height="28.0"/><rect x="1072" y="260.2" width="1" height="18.9"/><rect x="1071" y="261.0" width="3" height="17.0"/><rect x="1081" y="259.0" width="1" height="15.9"/><rect x="1080" y="263.0" width="3" height="4.0"/><rect x="1089" y="249.7" width="1" height="11.3"/><rect x="1088" y="256.9" width="3" height="1.2"/><rect x="1094" y="257.6" width="1" height="19.7"/><rect x="1093" y="258.0" width="3" height="2.0"/><rect x="1098" y="254.4" width="1" height="34.7"/><rect x="1097" y="260.0" width="3" height="28.0"/><rect x="1111" y="241.4" width="1" height="56.1"/><rect x="1110" y="245.0" width="3" height="38.0"/><rect x="1116" y="273.9" width="1" height="22.1"/><rect x="1115" y="283.0" width="3" height="13.0"/><rect x="1125" y="278.1" width="1" height="32.6"/><rect x="1124" y="285.0" width="3" height="22.0"/><rect x="1133" y="238.0" width="1" height="68.8"/><rect x="1132" y="290.0" width="3" height="16.0"/><rect x="1138" y="305.5" width="1" height="14.2"/><rect x="1137" y="306.0" width="3" height="4.0"/><rect x="1142" y="309.6" width="1" height="164.4"/><rect x="1141" y="310.0" width="3" height="148.0"/><rect x="1146" y="434.0" width="1" height="66.0"/><rect x="1145" y="458.0" width="3" height="31.0"/><rect x="1164" y="371.0" width="1" height="59.0"/><rect x="1163" y="378.0" width="3" height="36.0"/><rect x="1172" y="345.0" width="1" height="35.2"/><rect x="1171" y="363.0" width="3" height="16.0"/><rect x="1177" y="374.6" width="1" height="54.4"/><rect x="1176" y="379.0" width="3" height="4.0"/><rect x="1194" y="297.2" width="1" height="9.8"/><rect x="1193" y="300.0" width="3" height="5.0"/><rect x="1216" y="248.5" width="1" height="26.6"/><rect x="1215" y="252.0" width="3" height="19.0"/><rect x="1220" y="268.8" width="1" height="18.6"/><rect x="1219" y="271.0" width="3" height="10.0"/><rect x="1225" y="279.0" width="1" height="15.5"/><rect x="1224" y="281.0" width="3" height="9.0"/><rect x="1229" y="289.2" width="1" height="12.2"/><rect x="1228" y="290.0" width="3" height="8.0"/><rect x="1233" y="297.5" width="1" height="31.6"/><rect x="1232" y="298.0" width="3" height="31.0"/><rect x="1250" y="284.2" width="1" height="17.0"/><rect x="1249" y="292.0" width="3" height="9.0"/><rect x="1259" y="290.9" width="1" height="15.7"/><rect x="1258" y="291.0" width="3" height="9.0"/><rect x="1263" y="263.0" width="1" height="101.0"/><rect x="1262" y="300.0" width="3" height="31.0"/><rect x="1268" y="330.6" width="1" height="58.4"/><rect x="1267" y="331.0" width="3" height="28.0"/><rect x="1272" y="357.1" width="1" height="7.0"/><rect x="1271" y="359.0" width="3" height="5.0"/><rect x="1276" y="359.6" width="1" height="53.4"/><rect x="1275" y="364.0" width="3" height="21.0"/><rect x="1294" y="357.6" width="1" height="21.1"/><rect x="1293" y="372.0" width="3" height="6.0"/><rect x="1298" y="364.7" width="1" height="24.4"/><rect x="1297" y="378.0" width="3" height="11.0"/><rect x="1302" y="383.4" width="1" height="13.3"/><rect x="1301" y="389.0" width="3" height="7.0"/><rect x="1306" y="389.8" width="1" height="11.3"/><rect x="1305" y="396.0" width="3" height="4.0"/><rect x="1332" y="322.6" width="1" height="6.1"/><rect x="1331" y="325.0" width="3" height="2.0"/><rect x="1341" y="311.4" width="1" height="8.1"/><rect x="1340" y="315.0" width="3" height="3.0"/><rect x="1368" y="246.4" width="1" height="30.0"/><rect x="1367" y="247.0" width="3" height="28.0"/><rect x="1385" y="193.4" width="1" height="19.3"/><rect x="1384" y="205.0" width="3" height="6.0"/><rect x="1402" y="147.1" width="1" height="15.8"/><rect x="1401" y="149.0" width="3" height="13.0"/><rect x="1406" y="156.8" width="1" height="18.4"/><rect x="1405" y="162.0" width="3" height="9.0"/><rect x="1411" y="167.4" width="1" height="9.7"/><rect x="1410" y="171.0" width="3" height="4.0"/><rect x="1419" y="166.5" width="1" height="16.5"/><rect x="1418" y="170.0" width="3" height="12.0"/><rect x="1424" y="178.6" width="1" height="8.2"/><rect x="1423" y="182.0" width="3" height="3.0"/><rect x="1428" y="184.3" width="1" height="7.4"/><rect x="1427" y="185.0" width="3" height="3.0"/><rect x="1441" y="175.0" width="1" height="31.7"/><rect x="1440" y="178.0" width="3" height="26.0"/><rect x="1449" y="189.7" width="1" height="13.2"/><rect x="1448" y="200.0" width="3" height="2.0"/><rect x="1458" y="198.8" width="1" height="37.2"/><rect x="1457" y="199.0" width="3" height="31.0"/><rect x="1471" y="217.0" width="1" height="7.7"/><rect x="1470" y="217.9" width="3" height="1.2"/><rect x="1476" y="218.5" width="1" height="37.5"/><rect x="1475" y="219.0" width="3" height="30.0"/><rect x="1480" y="246.7" width="1" height="6.3"/><rect x="1479" y="248.9" width="3" height="1.2"/><rect x="1488" y="245.8" width="1" height="9.4"/><rect x="1487" y="248.0" width="3" height="6.0"/><rect x="1514" y="154.0" width="1" height="14.2"/><rect x="1513" y="158.0" width="3" height="4.0"/><rect x="1522" y="147.4" width="1" height="26.6"/><rect x="1521" y="158.0" width="3" height="5.0"/></g></g>
<line x1="5" y1="162.5" x2="1569" y2="162.5" stroke="#e60000" stroke-width="1" stroke-dasharray="2 4"/>
<g clip-path="url(#cl)"><text x="71" y="36.0" fill="#787b86" font-size="12" text-anchor="end" dominant-baseline="central">1 (1.05975)</text><text x="71" y="140.0" fill="#00bcd4" font-size="12" text-anchor="end" dominant-baseline="central">0.786 (1.05093)</text><text x="71" y="221.0" fill="#089981" font-size="12" text-anchor="end" dominant-baseline="central">0.618 (1.04401)</text><text x="71" y="279.0" fill="#4caf50" font-size="12" text-anchor="end" dominant-baseline="central">0.5 (1.03915)</text><text x="71" y="336.0" fill="#ff9800" font-size="12" text-anchor="end" dominant-baseline="central">0.382 (1.03429)</text><text x="71" y="407.0" fill="#f23645" font-size="12" text-anchor="end" dominant-baseline="central">0.236 (1.02827)</text><text x="71" y="521.0" fill="#787b86" font-size="12" text-anchor="end" dominant-baseline="central">0 (1.01855)</text></g>
<g fill="#ffffff" fill-opacity="0.5">
<rect x="5" y="6" width="542" height="24"/>
<rect x="5" y="30" width="147" height="48"/>
<rect x="5" y="78" width="154" height="24"/>
<rect x="5" y="102" width="147" height="24"/>
</g>
<text x="14" y="18.2" font-size="16.3" fill="#434651" dominant-baseline="central" textLength="129.5" lengthAdjust="spacingAndGlyphs">EUR/USD Spot · 4h</text>
<circle cx="168" cy="18" r="8.5" fill="#089981" fill-opacity="0.18"/><circle cx="168" cy="18" r="4" fill="#089981"/>
<text x="193" y="17.8" font-size="13" dominant-baseline="central" textLength="348" lengthAdjust="spacingAndGlyphs"><tspan fill="#434651">O</tspan><tspan fill="#e60000">1.05026</tspan> <tspan fill="#434651">H</tspan><tspan fill="#e60000">1.05050</tspan> <tspan fill="#434651">L</tspan><tspan fill="#e60000">1.04877</tspan> <tspan fill="#434651">C</tspan><tspan fill="#e60000">1.04986 −0.00041 (−0.04%)</tspan></text>
<text x="14" y="42.5" font-size="13" fill="#434651" dominant-baseline="central" textLength="79.0" lengthAdjust="spacingAndGlyphs">MA 20 close 0</text>
<text x="102.0" y="42.5" font-size="13" fill="#f23645" dominant-baseline="central" textLength="44" lengthAdjust="spacingAndGlyphs">1.04563</text>
<text x="14" y="66.5" font-size="13" fill="#434651" dominant-baseline="central" textLength="79.0" lengthAdjust="spacingAndGlyphs">MA 50 close 0</text>
<text x="102.0" y="66.5" font-size="13" fill="#f9b826" dominant-baseline="central" textLength="44" lengthAdjust="spacingAndGlyphs">1.04390</text>
<text x="14" y="90.5" font-size="13" fill="#434651" dominant-baseline="central" textLength="85.5" lengthAdjust="spacingAndGlyphs">MA 100 close 0</text>
<text x="108.5" y="90.5" font-size="13" fill="#43a047" dominant-baseline="central" textLength="44" lengthAdjust="spacingAndGlyphs">1.03963</text>
<text x="14" y="114.5" font-size="13" fill="#434651" dominant-baseline="central" textLength="85.5" lengthAdjust="spacingAndGlyphs">MA 200 close 0</text>
<text x="108.5" y="114.5" font-size="13" fill="#2962ff" dominant-baseline="central" textLength="44" lengthAdjust="spacingAndGlyphs">1.03751</text>
<rect x="14.5" y="128.5" width="27" height="20" rx="4" fill="#ffffff" fill-opacity="0.75" stroke="#e0e3eb"/>
<path d="M24,141 L28.5,136 L33,141" fill="none" stroke="#131722" stroke-width="1.3"/>
<text x="1619" y="43.5" font-size="12" fill="#4a4d57" text-anchor="end" dominant-baseline="central" textLength="40.5" lengthAdjust="spacingAndGlyphs">1.06000</text>
<text x="1619" y="102.4" font-size="12" fill="#4a4d57" text-anchor="end" dominant-baseline="central" textLength="40.5" lengthAdjust="spacingAndGlyphs">1.05500</text>
<text x="1619" y="161.2" font-size="12" fill="#4a4d57" text-anchor="end" dominant-baseline="central" textLength="40.5" lengthAdjust="spacingAndGlyphs">1.05000</text>
<text x="1619" y="220.1" font-size="12" fill="#4a4d57" text-anchor="end" dominant-baseline="central" textLength="40.5" lengthAdjust="spacingAndGlyphs">1.04500</text>
<text x="1619" y="278.9" font-size="12" fill="#4a4d57" text-anchor="end" dominant-baseline="central" textLength="40.5" lengthAdjust="spacingAndGlyphs">1.04000</text>
<text x="1619" y="337.8" font-size="12" fill="#4a4d57" text-anchor="end" dominant-baseline="central" textLength="40.5" lengthAdjust="spacingAndGlyphs">1.03500</text>
<text x="1619" y="396.6" font-size="12" fill="#4a4d57" text-anchor="end" dominant-baseline="central" textLength="40.5" lengthAdjust="spacingAndGlyphs">1.03000</text>
<text x="1619" y="455.5" font-size="12" fill="#4a4d57" text-anchor="end" dominant-baseline="central" textLength="40.5" lengthAdjust="spacingAndGlyphs">1.02500</text>
<text x="1619" y="514.3" font-size="12" fill="#4a4d57" text-anchor="end" dominant-baseline="central" textLength="40.5" lengthAdjust="spacingAndGlyphs">1.02000</text>
<path d="M1569,137.0 h54 a2,2 0 0 1 2,2 v13 a2,2 0 0 1 -2,2 h-54 z" fill="#2a2e39"/>
<text x="1619" y="145.8" font-size="12.5" fill="#fff" stroke="#fff" stroke-width="0.45" text-anchor="end" dominant-baseline="central" textLength="41.5" lengthAdjust="spacingAndGlyphs">1.05115</text>
<path d="M1569,154.0 h54 a2,2 0 0 1 2,2 v13 a2,2 0 0 1 -2,2 h-54 z" fill="#e60000"/>
<text x="1619" y="162.8" font-size="12.5" fill="#fff" stroke="#fff" stroke-width="0.45" text-anchor="end" dominant-baseline="central" textLength="41.5" lengthAdjust="spacingAndGlyphs">1.04986</text>
<path d="M1569,204.0 h54 a2,2 0 0 1 2,2 v13 a2,2 0 0 1 -2,2 h-54 z" fill="#f23645"/>
<text x="1619" y="212.8" font-size="12.5" fill="#fff" stroke="#fff" stroke-width="0.45" text-anchor="end" dominant-baseline="central" textLength="41.5" lengthAdjust="spacingAndGlyphs">1.04563</text>
<path d="M1569,225.0 h54 a2,2 0 0 1 2,2 v13 a2,2 0 0 1 -2,2 h-54 z" fill="#f9b826"/>
<text x="1619" y="233.8" font-size="12.5" fill="#131722" stroke="#131722" stroke-width="0.45" text-anchor="end" dominant-baseline="central" textLength="41.5" lengthAdjust="spacingAndGlyphs">1.04390</text>
<path d="M1569,275.0 h54 a2,2 0 0 1 2,2 v13 a2,2 0 0 1 -2,2 h-54 z" fill="#4caf50"/>
<text x="1619" y="283.8" font-size="12.5" fill="#fff" stroke="#fff" stroke-width="0.45" text-anchor="end" dominant-baseline="central" textLength="41.5" lengthAdjust="spacingAndGlyphs">1.03963</text>
<path d="M1569,292.0 h54 a2,2 0 0 1 2,2 v13 a2,2 0 0 1 -2,2 h-54 z" fill="#2a2e39"/>
<text x="1619" y="300.8" font-size="12.5" fill="#fff" stroke="#fff" stroke-width="0.45" text-anchor="end" dominant-baseline="central" textLength="41.5" lengthAdjust="spacingAndGlyphs">1.03939</text>
<path d="M1569,308.5 h54 a2,2 0 0 1 2,2 v13 a2,2 0 0 1 -2,2 h-54 z" fill="#2962ff"/>
<text x="1619" y="317.3" font-size="12.5" fill="#fff" stroke="#fff" stroke-width="0.45" text-anchor="end" dominant-baseline="central" textLength="41.5" lengthAdjust="spacingAndGlyphs">1.03751</text>
<path d="M1569,448.0 h54 a2,2 0 0 1 2,2 v13 a2,2 0 0 1 -2,2 h-54 z" fill="#2a2e39"/>
<text x="1619" y="456.8" font-size="12.5" fill="#fff" stroke="#fff" stroke-width="0.45" text-anchor="end" dominant-baseline="central" textLength="41.5" lengthAdjust="spacingAndGlyphs">1.02494</text>
<rect x="5" y="545" width="1624" height="1" fill="#e0e3eb"/>
<rect x="5" y="588" width="1564" height="100" fill="#7e57c2" fill-opacity="0.1"/>
<line x1="5" y1="588.5" x2="1569" y2="588.5" stroke="#787b86" stroke-width="1" stroke-dasharray="5 4"/>
<line x1="5" y1="638.5" x2="1569" y2="638.5" stroke="#787b86" stroke-width="1" stroke-dasharray="5 4"/>
<line x1="5" y1="688.5" x2="1569" y2="688.5" stroke="#787b86" stroke-width="1" stroke-dasharray="5 4"/>
<polyline clip-path="url(#cr)" points="5.0,649.8 9.5,645.8 13.8,632.3 18.8,635.8 23.1,642.3 27.6,639.0 31.8,647.8 35.9,639.0 40.1,641.0 45.1,627.2 49.4,637.8 53.2,637.8 57.7,631.5 61.9,623.2 65.9,622.7 70.7,604.7 75.2,597.2 79.0,598.2 84.0,607.2 87.8,603.9 92.3,601.7 97.0,622.0 100.8,629.0 104.8,623.5 109.6,622.2 114.1,643.5 118.4,626.5 122.9,623.2 126.9,610.7 130.9,635.3 136.7,636.5 139.9,634.8 144.2,641.5 149.2,651.6 153.0,666.6 157.2,650.3 161.7,647.1 166.0,648.6 170.0,669.1 174.8,659.1 178.5,665.9 183.0,665.4 188.1,654.6 192.3,654.1 196.8,645.8 200.6,655.3 205.1,670.9 209.4,670.9 213.1,669.9 218.2,677.1 222.7,677.4 226.9,650.8 230.7,649.8 235.2,645.8 239.5,643.5 244.0,633.3 248.2,631.5 252.5,637.8 257.0,650.3 262.0,635.8 265.3,633.3 270.3,626.7 275.1,632.0 279.1,645.3 282.8,650.3 287.9,643.3 292.1,652.3 296.4,645.8 300.9,641.0 304.7,643.3 308.9,644.0 313.4,662.9 317.2,709.2 321.7,716.0 326.0,694.2 331.0,679.2 334.8,673.4 339.0,681.2 344.0,688.7 348.0,686.7 352.8,687.4 357.3,670.4 361.1,663.6 366.1,659.6 369.9,629.8 374.1,639.0 378.6,636.5 382.9,632.8 387.4,647.8 391.7,654.1 395.7,659.6 399.9,646.6 404.5,650.3 408.8,657.3 413.3,657.3 418.0,654.1 422.6,655.8 426.3,654.6 430.6,654.1 435.1,648.6 439.4,647.3 443.9,650.3 448.1,646.1 452.6,637.8 456.9,629.5 460.9,625.2 465.2,635.8 470.2,625.7 474.0,611.4 478.2,630.3 482.7,624.7 487.0,627.2 491.5,624.0 495.8,629.8 500.3,627.0 504.0,608.2 509.1,665.9 512.8,652.8 517.1,645.3 521.6,643.3 525.9,640.3 529.9,641.5 534.9,675.4 539.2,675.9 543.4,676.6 547.9,677.9 552.2,657.8 556.2,663.6 561.0,680.4 565.0,700.5 569.2,706.7 573.8,693.7 578.0,689.9 582.3,679.9 586.8,669.6 591.1,673.4 595.1,664.1 599.3,661.1 603.6,661.1 608.1,651.6 612.6,643.5 616.9,596.4 621.1,614.0 625.7,617.0 629.9,619.7 633.9,615.7 638.7,605.9 642.7,607.2 647.0,632.8 651.2,641.0 655.8,648.3 660.8,645.3 665.0,654.1 669.0,667.9 673.8,665.4 677.8,660.8 681.6,657.8 687.1,659.1 690.9,668.6 695.1,661.1 699.6,662.1 703.9,662.9 708.4,663.6 712.2,662.4 715.9,662.9 720.4,657.8 726.0,687.4 730.2,689.9 734.7,690.4 739.0,691.7 743.0,702.5 747.3,703.0 752.3,710.0 756.1,708.5 759.8,694.9 764.3,644.0 768.6,652.8 772.9,648.3 777.9,648.6 782.4,622.2 786.1,620.2 790.7,616.0 794.9,619.0 799.2,617.0 803.7,620.7 807.5,617.7 812.5,629.5 817.0,628.2 821.3,633.5 825.0,626.5 830.1,633.3 834.3,624.7 838.8,624.0 843.1,624.5 847.1,625.7 851.4,643.5 855.6,624.0 860.2,630.3 863.9,651.1 868.9,651.6 873.2,646.1 877.2,623.2 881.5,615.7 885.7,608.4 889.7,574.6 895.3,568.8 899.0,569.3 902.8,598.4 907.8,610.7 912.1,623.5 915.8,602.7 920.3,596.9 924.8,604.7 929.1,602.2 933.6,602.7 937.9,590.9 942.1,607.2 946.7,607.7 950.9,615.7 954.9,615.7 959.7,622.0 963.7,620.2 968.0,624.7 973.0,610.2 976.8,615.7 981.0,600.7 986.0,593.9 993.8,575.6 998.6,592.1 1003.1,593.4 1006.8,612.7 1011.4,612.7 1016.1,620.2 1020.1,596.9 1024.4,606.4 1029.4,610.7 1032.7,640.3 1037.7,645.3 1041.9,642.8 1046.2,647.8 1051.2,647.3 1055.2,640.8 1059.5,645.3 1064.0,639.0 1068.3,651.1 1072.0,658.6 1077.1,646.6 1080.8,648.6 1085.3,642.8 1090.1,642.3 1093.9,643.5 1097.9,663.4 1102.9,636.0 1107.1,639.0 1112.2,655.3 1115.9,661.6 1120.2,649.1 1124.7,662.4 1129.0,649.8 1133.0,659.6 1138.0,660.8 1142.2,698.5 1146.5,703.7 1151.0,702.2 1154.8,686.7 1159.0,655.3 1163.6,664.6 1167.8,647.3 1172.3,651.6 1176.6,652.8 1181.1,647.8 1184.9,627.2 1189.9,626.5 1194.2,631.0 1198.2,628.2 1203.2,620.7 1206.9,616.5 1211.2,612.7 1216.2,620.7 1218.8,624.0 1224.5,629.0 1228.8,635.3 1233.1,644.0 1237.6,639.8 1242.1,632.0 1246.3,632.0 1250.1,634.8 1254.6,629.8 1258.9,634.0 1263.1,651.6 1267.7,661.6 1271.4,664.1 1275.9,672.9 1280.2,671.6 1284.7,670.4 1289.0,663.6 1294.0,666.6 1298.5,671.6 1302.8,675.4 1306.5,676.1 1310.8,670.4 1315.3,651.6 1319.8,637.8 1324.1,623.5 1328.6,619.7 1332.9,620.7 1337.1,611.4 1341.6,612.0 1345.9,612.7 1349.9,601.9 1354.2,600.2 1358.7,584.6 1362.9,581.9 1366.7,607.7 1371.7,591.4 1375.5,589.6 1379.7,579.4 1384.8,582.6 1388.8,580.1 1393.0,578.9 1398.0,564.6 1401.8,572.6 1406.1,582.1 1410.6,585.9 1414.8,583.9 1418.9,596.4 1423.9,597.7 1428.1,600.2 1432.7,598.9 1436.9,596.4 1441.2,622.2 1445.2,622.7 1450.0,622.7 1453.7,619.7 1457.7,642.8 1462.0,640.3 1466.5,636.5 1470.8,636.5 1475.8,662.9 1479.5,662.9 1484.1,660.8 1489.1,665.9 1492.6,651.6 1497.1,651.1 1502.1,641.5 1505.9,607.7 1510.1,590.1 1514.6,590.9 1518.4,590.1 1522.9,595.9" fill="none" stroke="#7e57c2" stroke-width="1.2" stroke-linejoin="round"/>
<text x="14.5" y="563" font-size="13" fill="#434651" dominant-baseline="central" textLength="34" lengthAdjust="spacingAndGlyphs">RSI 14</text>
<text x="57" y="563" font-size="13" fill="#7e57c2" dominant-baseline="central">66.96</text>
<text x="1606" y="563.5" font-size="12" fill="#4a4d57" text-anchor="end" dominant-baseline="central" textLength="29" lengthAdjust="spacingAndGlyphs">80.00</text>
<text x="1606" y="613.5" font-size="12" fill="#4a4d57" text-anchor="end" dominant-baseline="central" textLength="29" lengthAdjust="spacingAndGlyphs">60.00</text>
<text x="1606" y="663.5" font-size="12" fill="#4a4d57" text-anchor="end" dominant-baseline="central" textLength="29" lengthAdjust="spacingAndGlyphs">40.00</text>
<text x="1606" y="713.5" font-size="12" fill="#4a4d57" text-anchor="end" dominant-baseline="central" textLength="29" lengthAdjust="spacingAndGlyphs">20.00</text>
<path d="M1569,588 h41 a2,2 0 0 1 2,2 v13 a2,2 0 0 1 -2,2 h-41 z" fill="#7e57c2"/>
<text x="1606" y="596.8" font-size="12.5" fill="#fff" stroke="#fff" stroke-width="0.45" text-anchor="end" dominant-baseline="central" textLength="29" lengthAdjust="spacingAndGlyphs">66.96</text>
<rect x="21" y="688" width="27" height="3" fill="#fff"/><circle cx="33.4" cy="703" r="16.4" fill="#fff" stroke="#dadde6" stroke-width="1.2"/>
<path d="M23,698 h9 v11 h-4.2 v-7 h-4.8 z" fill="#131722"/><circle cx="34.7" cy="699.8" r="1.8" fill="#131722"/><path d="M40,698 h4.2 l-4.6,11 h-4.2 z" fill="#131722"/>
<text x="6.0" y="746" font-size="12" fill="#4a4d57" text-anchor="middle" dominant-baseline="central">3</text>
<text x="110.5" y="746" font-size="12" fill="#4a4d57" text-anchor="middle" dominant-baseline="central">8</text>
<text x="192.5" y="746" font-size="12" fill="#4a4d57" text-anchor="middle" dominant-baseline="central">12</text>
<text x="275.5" y="746" font-size="12" fill="#4a4d57" text-anchor="middle" dominant-baseline="central">17</text>
<text x="379.5" y="746" font-size="12" fill="#4a4d57" text-anchor="middle" dominant-baseline="central">22</text>
<text x="465.5" y="746" font-size="12" fill="#4a4d57" text-anchor="middle" dominant-baseline="central">27</text>
<text x="548.5" y="746" font-size="12" fill="#4a4d57" text-anchor="middle" dominant-baseline="central" font-weight="bold">2025</text>
<text x="634.5" y="746" font-size="12" fill="#4a4d57" text-anchor="middle" dominant-baseline="central">7</text>
<text x="739.5" y="746" font-size="12" fill="#4a4d57" text-anchor="middle" dominant-baseline="central">12</text>
<text x="821.5" y="746" font-size="12" fill="#4a4d57" text-anchor="middle" dominant-baseline="central">16</text>
<text x="903.5" y="746" font-size="12" fill="#4a4d57" text-anchor="middle" dominant-baseline="central">21</text>
<text x="1007.5" y="746" font-size="12" fill="#4a4d57" text-anchor="middle" dominant-baseline="central">26</text>
<text x="1142.5" y="746" font-size="12" fill="#4a4d57" text-anchor="middle" dominant-baseline="central">Feb</text>
<text x="1224.5" y="746" font-size="12" fill="#4a4d57" text-anchor="middle" dominant-baseline="central">6</text>
<text x="1307.5" y="746" font-size="12" fill="#4a4d57" text-anchor="middle" dominant-baseline="central">11</text>
<text x="1411.5" y="746" font-size="12" fill="#4a4d57" text-anchor="middle" dominant-baseline="central">16</text>
<text x="1493.5" y="746" font-size="12" fill="#4a4d57" text-anchor="middle" dominant-baseline="central">20</text>
<g transform="translate(1600,747)" fill="none" stroke="#131722" stroke-width="1.3"><path d="M-3.5,-6.1 L3.5,-6.1 L6.8,0 L3.5,6.1 L-3.5,6.1 L-6.8,0 Z"/><circle r="1.8"/></g>
<rect x="0" y="0" width="1629" height="2" fill="#e0e3eb"/>
<rect x="1" y="0" width="4" height="760" fill="#e0e3eb"/>
<rect x="-3" y="718.5" width="6" height="25" rx="2.5" fill="#fff"/><rect x="0" y="728" width="1" height="1" fill="#9598a1"/><rect x="0" y="734" width="1" height="1" fill="#9598a1"/>
</svg></body></html>
